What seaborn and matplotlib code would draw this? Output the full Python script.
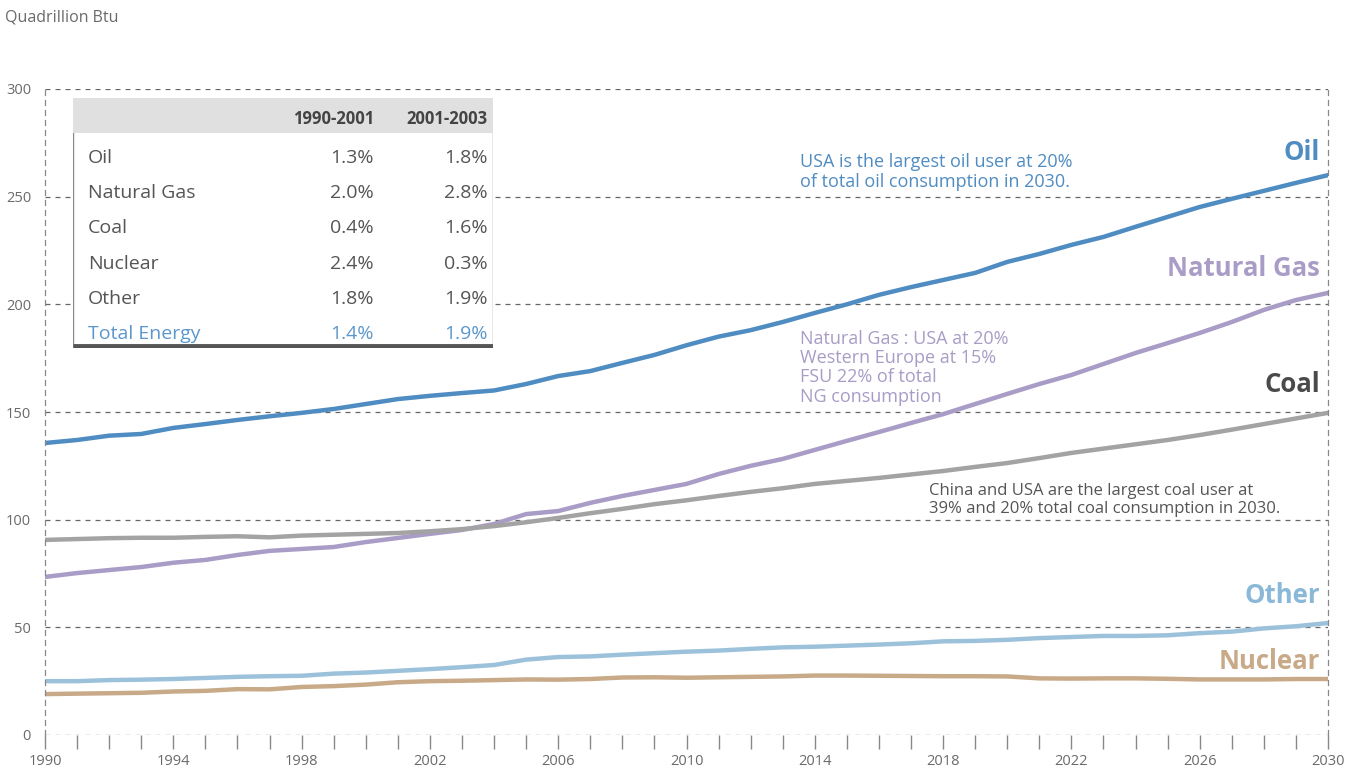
import numpy as np
import pandas as pd
import matplotlib
matplotlib.use("Agg")
import matplotlib.pyplot as plt
import seaborn as sns

years = list(range(1990, 2031))
oil = [135.6, 137, 139, 139.8, 142.6, 144.4, 146.3, 148, 149.6, 151.4,
       153.7, 156, 157.5, 158.8, 160, 163, 166.7, 169, 172.8, 176.5,
       181, 185, 188, 191.8, 196, 200, 204.4, 208, 211.3, 214.6,
       219.7, 223.4, 227.6, 231.3, 236, 240.6, 245.2, 249, 252.7, 256.4, 260]
gas = [73.4, 75.2, 76.6, 78, 80, 81.3, 83.6, 85.5, 86.4, 87.3,
       89.6, 91.5, 93.4, 95.2, 98, 102.6, 104, 107.8, 111, 113.8,
       116.6, 121.2, 125, 128.2, 132.4, 136.6, 140.7, 144.9, 149, 153.7,
       158.4, 163, 167.2, 172.3, 177.4, 182, 186.7, 191.8, 197.4, 202, 205.3]
coal = [90.6, 91, 91.4, 91.6, 91.6, 92, 92.3, 91.8, 92.6, 93,
        93.4, 93.8, 94.6, 95.6, 97, 98.8, 100.8, 103, 105, 107.2,
        109, 111, 112.9, 114.6, 116.6, 118, 119.4, 121, 122.6, 124.5,
        126.3, 128.6, 131, 133, 135, 137, 139.3, 141.8, 144.4, 147, 149.6]
other = [25, 25, 25.5, 25.7, 26, 26.5, 27, 27.3, 27.5, 28.5,
         29, 29.8, 30.6, 31.5, 32.5, 35, 36.2, 36.5, 37.3, 38,
         38.7, 39.2, 40, 40.7, 41, 41.5, 42, 42.6, 43.5, 43.7,
         44.2, 45, 45.5, 46, 46, 46.3, 47.3, 48, 49.5, 50.5, 52]
nuclear = [19, 19.2, 19.4, 19.6, 20.2, 20.5, 21.3, 21.2, 22.3, 22.7,
           23.4, 24.5, 25, 25.2, 25.5, 25.8, 25.7, 26, 26.7, 26.8,
           26.6, 26.8, 27, 27.2, 27.6, 27.6, 27.5, 27.4, 27.3, 27.3,
           27.2, 26.3, 26.2, 26.3, 26.3, 26.1, 25.8, 25.8, 25.8, 26, 26]

fuels = ["Oil", "Natural Gas", "Coal", "Other", "Nuclear"]
colors = {"Oil": "#4f8cc2", "Natural Gas": "#a99cc6", "Coal": "#a3a3a3",
          "Other": "#9cc2db", "Nuclear": "#c8a988"}
label_colors = {"Oil": "#4f8cc2", "Natural Gas": "#a99cc6", "Coal": "#4a4a4a",
                "Other": "#8ab8d8", "Nuclear": "#c8a988"}
label_pos = {"Oil": 270.5, "Natural Gas": 216.5, "Coal": 163, "Other": 65, "Nuclear": 34}

table_cols = ["1990-2001", "2001-2003"]
table_rows = ["Oil", "Natural Gas", "Coal", "Nuclear", "Other", "Total Energy"]
rate_a = ["1.3%", "2.0%", "0.4%", "2.4%", "1.8%", "1.4%"]
rate_b = ["1.8%", "2.8%", "1.6%", "0.3%", "1.9%", "1.9%"]

df = pd.DataFrame({"year": years, "Oil": oil, "Natural Gas": gas, "Coal": coal,
                   "Other": other, "Nuclear": nuclear})
long = df.melt(id_vars="year", var_name="fuel", value_name="value")

sns.set_style("white")
plt.rcParams["font.family"] = ["Open Sans", "DejaVu Sans"]

fig = plt.figure(figsize=(13.63, 7.71), dpi=100)
ax = fig.add_axes([45 / 1363, 1 - 735 / 771, 1283 / 1363, 646 / 771])

sns.lineplot(data=long, x="year", y="value", hue="fuel", hue_order=fuels,
             palette=colors, linewidth=3.2, legend=False, ax=ax)

ax.set_xlim(1990, 2030)
ax.set_ylim(0, 300)
ax.set_xlabel("")
ax.set_ylabel("")
ax.set_xticks(range(1990, 2031, 4))
ax.set_xticks(range(1990, 2031), minor=True)
ax.set_yticks(range(0, 301, 50))
ax.tick_params(axis="x", which="both", direction="out", length=10, width=1,
               color="#888888", labelsize=10.5, labelcolor="#6a6a6a", pad=4, bottom=True)
ax.tick_params(axis="y", length=0, labelsize=10.5, labelcolor="#6a6a6a", pad=10)
ax.yaxis.grid(True, linestyle=(0, (4, 4)), color="#666666", linewidth=0.9)
ax.set_axisbelow(True)
for side in ["left", "right"]:
    ax.spines[side].set_visible(True)
    ax.spines[side].set_linestyle((0, (4, 4)))
    ax.spines[side].set_color("#888888")
    ax.spines[side].set_linewidth(0.9)
ax.spines["bottom"].set_visible(False)
ax.spines["top"].set_visible(False)

for f in fuels:
    ax.text(2029.75, label_pos[f], f, color=label_colors[f], fontsize=18.5,
            fontweight="bold", ha="right", va="center")

ax.text(2013.55, 261.5, "USA is the largest oil user at 20%\nof total oil consumption in 2030.",
        color="#4f8cc2", fontsize=13, va="center", linespacing=1.1)
ax.text(2013.55, 170.5, "Natural Gas : USA at 20%\nWestern Europe at 15%\nFSU 22% of total\nNG consumption",
        color="#a99cc6", fontsize=13, va="center", linespacing=1.08)
ax.text(2017.55, 109, "China and USA are the largest coal user at\n39% and 20% total coal consumption in 2030.",
        color="#555555", fontsize=12, va="center", linespacing=1.15)

fig.text(5 / 1363, 1 - 17 / 771, "Quadrillion Btu", fontsize=11.5, color="#6a6a6a", va="center")

# growth-rate table
tax = fig.add_axes([73 / 1363, 1 - 348 / 771, 420 / 1363, 250 / 771])
tax.set_xlim(0, 420)
tax.set_ylim(250, 0)
tax.axis("off")
tax.add_patch(plt.Rectangle((0, 0), 420, 250, facecolor="white", edgecolor="#888888", linewidth=1))
tax.add_patch(plt.Rectangle((0, 0), 420, 35, facecolor="#e0e0e0", edgecolor="none"))
tax.plot([0, 420], [248, 248], color="#555555", linewidth=3.5, solid_capstyle="butt")
for j, c in enumerate(table_cols):
    tax.text([301, 415][j], 21, c, fontsize=12, fontweight="bold", color="#444444",
             ha="right", va="center")
for i, r in enumerate(table_rows):
    y = 60 + i * 35.2
    col = "#5b97cc" if r == "Total Energy" else "#555555"
    tax.text(15, y, r, fontsize=14, color=col, va="center")
    tax.text(301, y, rate_a[i], fontsize=14, color=col, va="center", ha="right")
    tax.text(415, y, rate_b[i], fontsize=14, color=col, va="center", ha="right")

fig.savefig("out.png", dpi=100)
